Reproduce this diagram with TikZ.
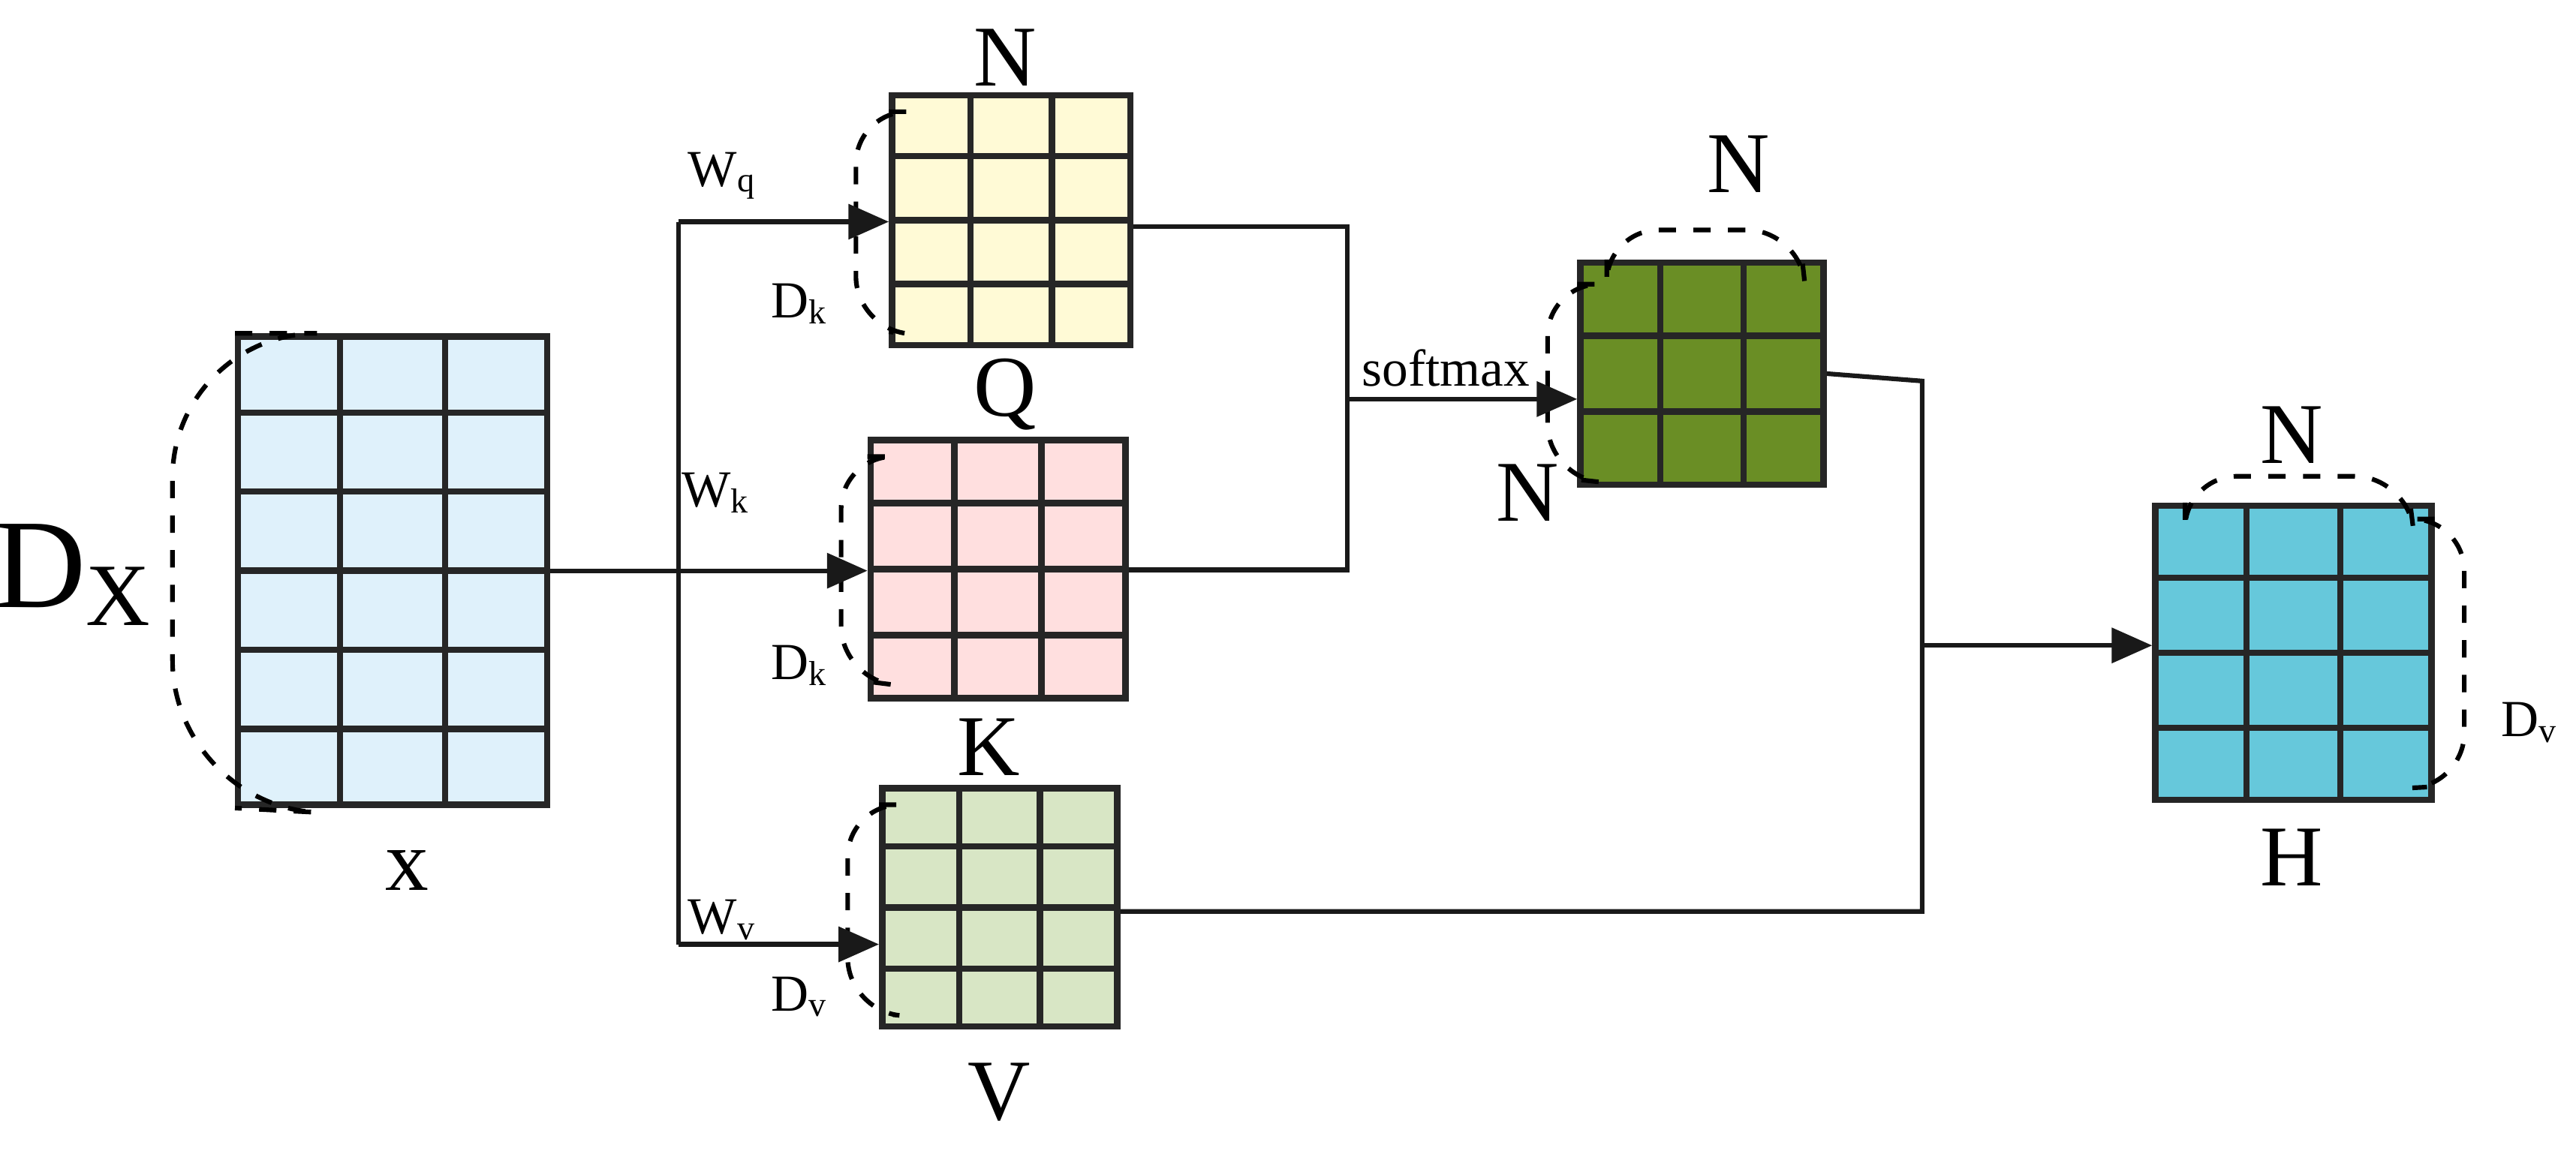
\documentclass[tikz,border=0pt]{standalone}
\usepackage{fontspec}
\setmainfont{Liberation Serif}
\usetikzlibrary{arrows.meta,calc}
\definecolor{cx}{HTML}{DFF1FB}
\definecolor{cq}{HTML}{FFFAD6}
\definecolor{ck}{HTML}{FFDFDF}
\definecolor{cv}{HTML}{D8E6C5}
\definecolor{ca}{HTML}{6A8E25}
\definecolor{ch}{HTML}{66C8DB}
\tikzset{
  grid/.style={draw=black!85, line width=1.1pt},
  link/.style={line width=0.8pt, draw=black!90},
  arr/.style={link, -{Triangle[length=7pt,width=6pt]}},
  brace/.style={dashed, line width=0.8pt, rounded corners=9pt},
  big/.style={font=\fontsize{15}{15}\selectfont},
  small/.style={font=\fontsize{9}{9}\selectfont},
}
% #1 name #2 pos #3 w #4 h #5 fill #6 ncols #7 collist #8 nrows #9 rowlist
\newcommand\mymat[9]{%
  \node[grid, fill=#5, minimum width=#3, minimum height=#4, inner sep=0pt] (#1) at #2 {};
  \foreach \i in {#7} {\draw[grid] ($(#1.south west)!\i/#6!(#1.south east)$) -- ($(#1.north west)!\i/#6!(#1.north east)$);}
  \foreach \j in {#9} {\draw[grid] ($(#1.south west)!\j/#8!(#1.north west)$) -- ($(#1.south east)!\j/#8!(#1.north east)$);}
}
\begin{document}
\begin{tikzpicture}[x=0.01cm,y=-0.01cm]
\useasboundingbox[fill=white] (0,0) rectangle (1568,702.6);
\mymat{X}{(239,347.5)}{1.88cm}{2.85cm}{cx}{3}{1,2}{6}{1,...,5}
\mymat{Q}{(615.5,134)}{1.45cm}{1.52cm}{cq}{3}{1,2}{4}{1,2,3}
\mymat{K}{(607.5,346.5)}{1.55cm}{1.57cm}{ck}{3}{1,2}{4}{1,2,3}
\mymat{V}{(608.5,552.5)}{1.43cm}{1.45cm}{cv}{3}{1,2}{4}{1,2,3}
\mymat{A}{(1036,227.5)}{1.48cm}{1.35cm}{ca}{3}{1,2}{3}{1,2}
\mymat{H}{(1396,397.5)}{1.68cm}{1.79cm}{ch}{3}{1,2}{4}{1,2,3}

% labels
\node[big, font=\fontsize{22}{22}\selectfont] (lDX) at (45,350) {D$_{\mathrm{X}}$};
\node[big] (lx) at (248,530) {x};
\node[big] (lNQ) at (612,35) {N};
\node[big] (lQ) at (612,240) {Q};
\node[big] (lK) at (602,455) {K};
\node[big] (lV) at (608,665) {V};
\node[big] (lNA) at (1058,100) {N};
\node[big] (lNA2) at (930,300) {N};
\node[big] (lNH) at (1395,265) {N};
\node[big] (lH) at (1395,522) {H};
\node[small] (wq) at (440,107) {W$_{\mathrm{q}}$};
\node[small] (wk) at (436,300) {W$_{\mathrm{k}}$};
\node[small] (wv) at (440,560) {W$_{\mathrm{v}}$};
\node[small] (dq) at (487,185) {D$_{\mathrm{k}}$};
\node[small] (dk) at (487,405) {D$_{\mathrm{k}}$};
\node[small] (dv) at (487,607) {D$_{\mathrm{v}}$};
\node[small] (dh) at (1540,440) {D$_{\mathrm{v}}$};
\node[small] (sm) at (880,224) {softmax};

% braces
\draw[brace, rounded corners=25pt] (X.north west) -| (105,490) -- (X.south west);
\draw[brace] ($(Q.north west)+(0,12)$) -| (521,200) -- ($(Q.south west)+(0,-10)$);
\draw[brace] ($(K.north west)+(0,12)$) -| (512,413) -- ($(K.south west)+(0,-12)$);
\draw[brace] ($(V.north west)+(0,12)$) -| (516,615) -- ($(V.south west)+(0,-10)$);
\draw[brace] ($(A.north west)+(18,0)$) |- (1095,140) -- ($(A.north east)+(-15,0)$);
\draw[brace] ($(A.north west)+(0,15)$) -| (942,290) -- ($(A.south west)+(0,-5)$);
\draw[brace] ($(H.north west)+(20,0)$) |- (1465,290) -- ($(H.north east)+(-15,0)$);
\draw[brace] ($(H.north east)+(0,10)$) -| (1500,478) -- ($(H.south east)+(0,-10)$);

% connectors
\coordinate (b) at (413,347.5);
\coordinate (bt) at (413,135);
\coordinate (bb) at (413,575);
\coordinate (qe) at (820,138);
\coordinate (ke) at (820,347);
\coordinate (sj) at (820,243);
\coordinate (ae) at (1170,232);
\coordinate (ve) at (1170,555);
\coordinate (hj) at (1170,393);
\draw[arr] (X.east) -- (K.west |- X.east);
\draw[link] (bt) -- (bb);
\draw[arr] (bt) -- (Q.west |- bt);
\draw[arr] (bb) -- (V.west |- bb);
\draw[link] (Q.east |- qe) -- (qe) -- (ke) -- (K.east |- ke);
\draw[arr] (sj) -- (A.west |- sj);
\draw[link] (A.east) -- (ae) -- (ve) -- (V.east |- ve);
\draw[arr] (hj) -- (H.west |- hj);
\end{tikzpicture}
\end{document}
